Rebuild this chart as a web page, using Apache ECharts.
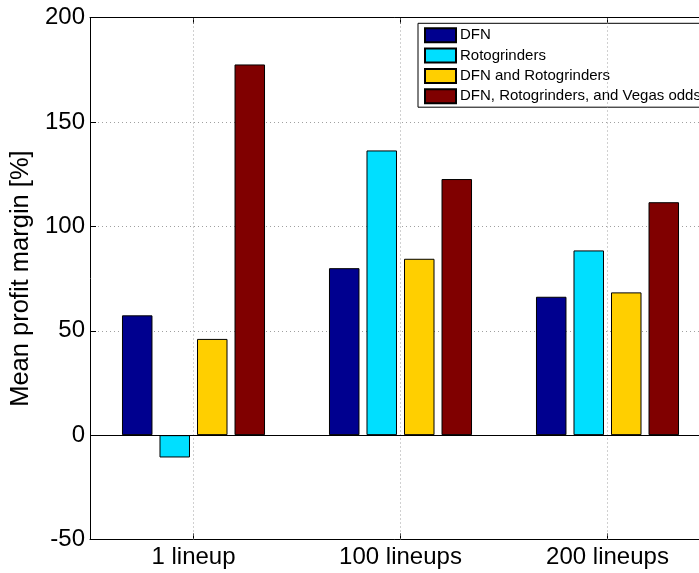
<!DOCTYPE html>
<html>
<head>
<meta charset="utf-8">
<script src="https://cdn.jsdelivr.net/npm/echarts@6/dist/echarts.min.js"></script>
<style>
html,body{margin:0;padding:0;background:#fff;}
#chart{width:699px;height:573px;}
</style>
</head>
<body>
<div id="chart"></div>
<script>
var categories = ['1 lineup', '100 lineups', '200 lineups'];
var seriesNames = ['DFN', 'Rotogrinders', 'DFN and Rotogrinders', 'DFN, Rotogrinders, and Vegas odds'];
var dfn = [57.4, 80.0, 66.3];
var rotogrinders = [-10.7, 136.4, 88.5];
var dfnRoto = [46.1, 84.5, 68.4];
var dfnRotoVegas = [177.6, 122.7, 111.6];
var yTicks = [-50, 0, 50, 100, 150, 200];
var colors = ['#00008F', '#00DFFF', '#FFCF00', '#800000'];

var seriesData = [dfn, rotogrinders, dfnRoto, dfnRotoVegas];
var FONT = 'Liberation Sans, Arial, Helvetica, sans-serif';

var chart = echarts.init(document.getElementById('chart'), null, {renderer: 'canvas'});

var series = seriesData.map(function (d, i) {
  return {
    name: seriesNames[i],
    type: 'bar',
    data: d,
    barWidth: 30.5,
    barGap: '23%',
    itemStyle: {color: colors[i], borderColor: '#000', borderWidth: 1},
    emphasis: {disabled: true},
    animation: false,
    z: 3
  };
});

// helper series carrying the vertical grid lines at category centres and the zero baseline
series.push({
  name: '__grid',
  type: 'line',
  data: [],
  silent: true,
  z: 1,
  markLine: {
    silent: true,
    symbol: 'none',
    label: {show: false},
    animation: false,
    data: categories.map(function (c) {
      return {xAxis: c, lineStyle: {color: '#a0a0a0', width: 1, type: [1, 3]}};
    })
  }
});
series.push({
  name: '__zero',
  type: 'line',
  data: [],
  silent: true,
  z: 4,
  markLine: {
    silent: true,
    symbol: 'none',
    label: {show: false},
    animation: false,
    data: [{yAxis: 0, lineStyle: {color: '#000', width: 1, type: 'solid'}}]
  }
});

chart.setOption({
  backgroundColor: '#fff',
  animation: false,
  textStyle: {fontFamily: FONT},
  grid: {left: 90, top: 17.7, width: 621, height: 521.8, containLabel: false, outerBoundsMode: 'none'},
  legend: {
    data: seriesNames,
    orient: 'vertical',
    left: 418,
    top: 23.3,
    padding: [4, 4, 3, 6],
    itemWidth: 31,
    itemHeight: 14,
    itemGap: 4.3,
    backgroundColor: '#fff',
    borderColor: '#000',
    borderWidth: 1,
    borderRadius: 0,
    icon: 'rect',
    selectedMode: false,
    textStyle: {fontFamily: FONT, fontSize: 15, color: '#000', lineHeight: 14, padding: [0, 0, 0, -1]}
  },
  xAxis: [{
    type: 'category',
    data: categories,
    position: 'bottom',
    axisLine: {onZero: false, lineStyle: {color: '#000', width: 1}},
    axisTick: {show: true, inside: true, alignWithLabel: true, length: 6, lineStyle: {color: '#000'}},
    axisLabel: {fontFamily: FONT, fontSize: 24, color: '#000', margin: 6},
    splitLine: {show: false}
  }, {
    type: 'category',
    data: categories,
    position: 'top',
    axisLine: {onZero: false, lineStyle: {color: '#000', width: 1}},
    axisTick: {show: true, inside: true, alignWithLabel: true, length: 6, lineStyle: {color: '#000'}},
    axisLabel: {show: false},
    splitLine: {show: false}
  }],
  yAxis: {
    type: 'value',
    min: yTicks[0],
    max: yTicks[yTicks.length - 1],
    interval: 50,
    name: 'Mean profit margin [%]',
    nameLocation: 'middle',
    nameGap: 44,
    nameTextStyle: {fontFamily: FONT, fontSize: 25.5, color: '#000'},
    axisLine: {show: true, lineStyle: {color: '#000', width: 1}},
    axisTick: {show: true, inside: true, length: 6, lineStyle: {color: '#000'}},
    axisLabel: {fontFamily: FONT, fontSize: 24, color: '#000', margin: 5},
    splitLine: {show: true, lineStyle: {color: '#a0a0a0', width: 1, type: [1, 3]}}
  },
  series: series
});
</script>
</body>
</html>
